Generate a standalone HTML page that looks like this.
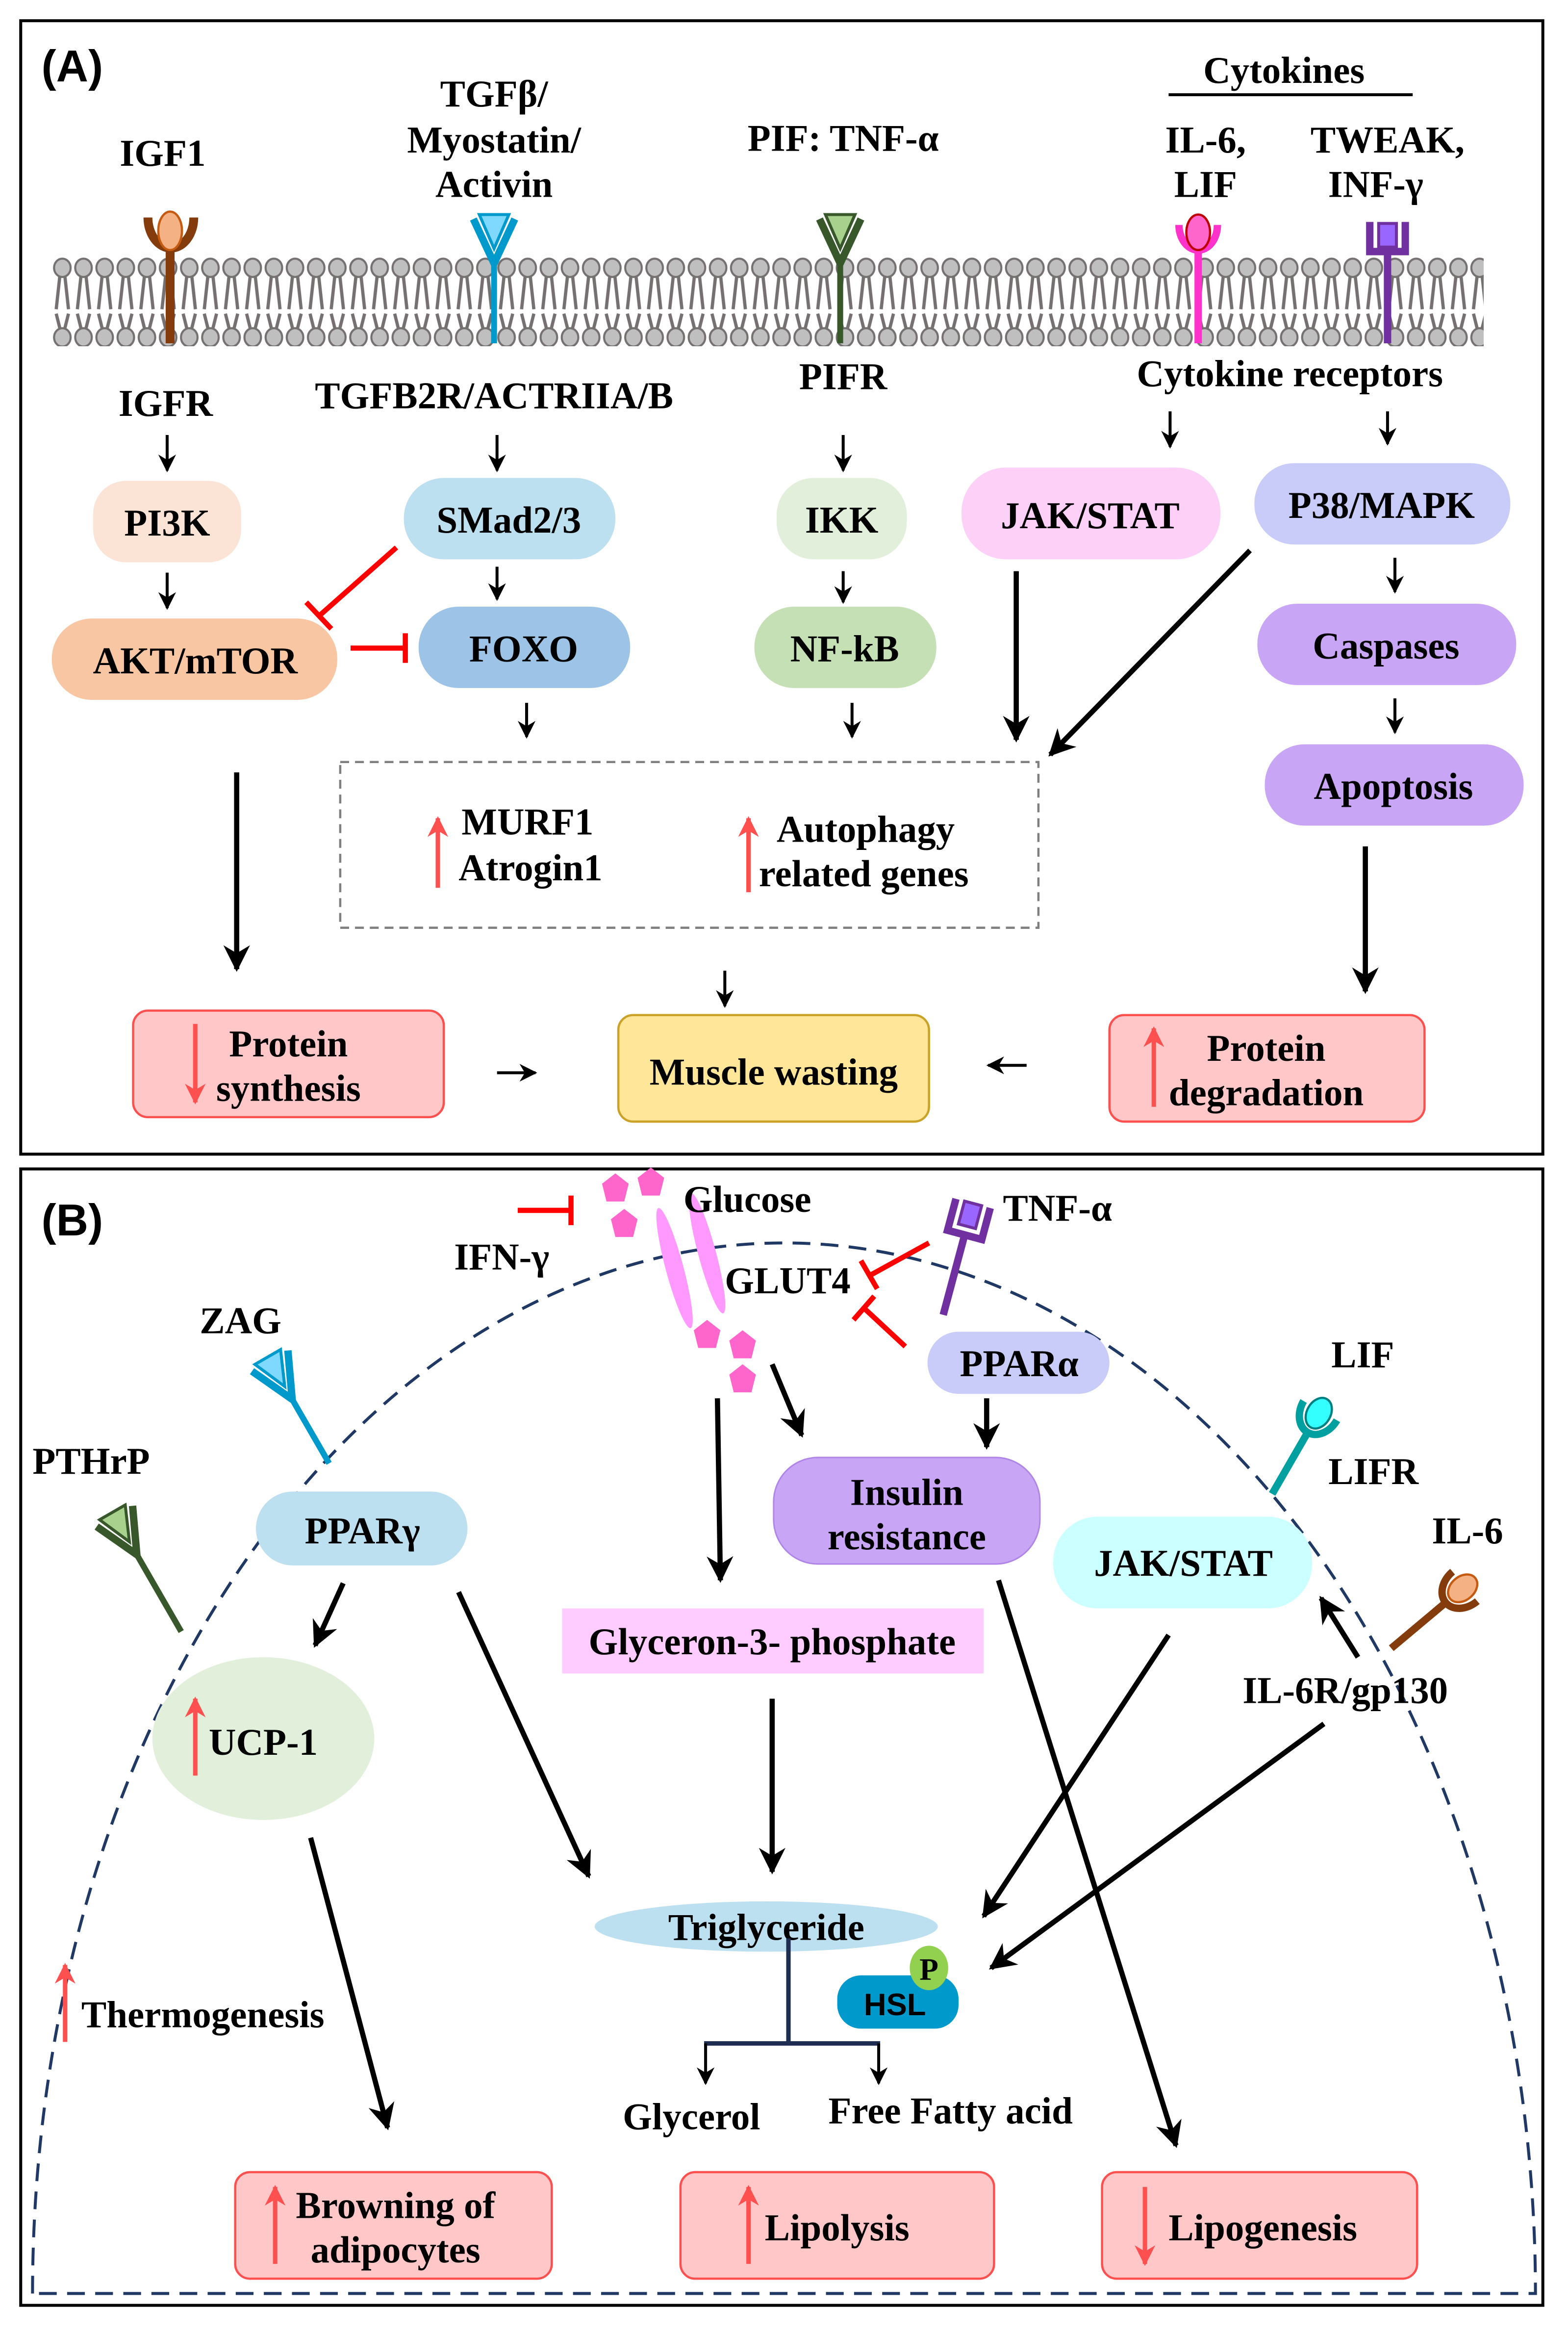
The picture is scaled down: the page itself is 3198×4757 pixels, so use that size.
<!DOCTYPE html>
<html><head><meta charset="utf-8"><style>
html,body{margin:0;padding:0;background:#fff}
svg{display:block}
text{font-family:"Liberation Serif",serif;font-weight:bold;fill:#000}
</style></head><body>
<svg width="3198" height="4757" viewBox="0 0 1060 1576.7" preserveAspectRatio="none" xmlns="http://www.w3.org/2000/svg">
<defs>
<marker id="a" viewBox="0 0 10 10" refX="9" refY="5" markerWidth="12" markerHeight="12" markerUnits="userSpaceOnUse" orient="auto"><path d="M0,0 L10,5 L0,10 L3,5 z" fill="#000"/></marker>
<marker id="b" viewBox="0 0 10 10" refX="9" refY="5" markerWidth="18" markerHeight="18" markerUnits="userSpaceOnUse" orient="auto"><path d="M0,0 L10,5 L0,10 L3,5 z" fill="#000"/></marker>
<marker id="r" viewBox="0 0 10 10" refX="9" refY="5" markerWidth="14" markerHeight="14" markerUnits="userSpaceOnUse" orient="auto"><path d="M0,0 L10,5 L0,10 L3,5 z" fill="#ff5050"/></marker>
<pattern id="mem" x="35" y="172" width="14.3" height="62" patternUnits="userSpaceOnUse">
<line x1="5.5" y1="14" x2="3" y2="37" stroke="#767171" stroke-width="2.2"/>
<line x1="8.8" y1="14" x2="11.3" y2="37" stroke="#767171" stroke-width="2.2"/>
<line x1="3" y1="40" x2="5.5" y2="50" stroke="#767171" stroke-width="2.2"/>
<line x1="11.3" y1="40" x2="8.8" y2="50" stroke="#767171" stroke-width="2.2"/>
<ellipse cx="7.15" cy="9" rx="5.6" ry="6.2" fill="#bfbfbf" stroke="#767171" stroke-width="1.4"/>
<ellipse cx="7.15" cy="56" rx="5.6" ry="6.2" fill="#bfbfbf" stroke="#767171" stroke-width="1.4"/>
</pattern>
</defs>
<rect x="0" y="0" width="1060" height="1577" fill="#fff"/>
<rect x="14" y="14" width="1029" height="766" fill="none" stroke="#000" stroke-width="2"/>
<rect x="14" y="790" width="1029" height="768" fill="none" stroke="#000" stroke-width="2"/>
<text x="28" y="55" style="font-family:'Liberation Sans',sans-serif" font-size="30">(A)</text>
<text x="28" y="835" style="font-family:'Liberation Sans',sans-serif" font-size="30">(B)</text>

<rect x="35" y="172" width="968" height="64" fill="url(#mem)"/>

<g>
<line x1="115" y1="160" x2="115" y2="232" stroke="#843c0c" stroke-width="6"/>
<path d="M100 147 A15 20 0 0 0 131 147" fill="none" stroke="#843c0c" stroke-width="6"/>
<ellipse cx="115" cy="156" rx="8" ry="13" fill="#f4b183" stroke="#c55a11" stroke-width="1.5"/>
</g>
<g>
<line x1="334" y1="175" x2="334" y2="232" stroke="#0099cc" stroke-width="4"/>
<path d="M320 148 L334 178 L348 148" fill="none" stroke="#0099cc" stroke-width="5"/>
<polygon points="324,145 344,145 334,168" fill="#7fd9ff" stroke="#0099cc" stroke-width="2"/>
</g>
<g>
<line x1="568" y1="175" x2="568" y2="232" stroke="#38572a" stroke-width="4"/>
<path d="M554 148 L568 178 L582 148" fill="none" stroke="#38572a" stroke-width="5"/>
<polygon points="558,145 578,145 568,168" fill="#a9d18e" stroke="#38572a" stroke-width="2"/>
</g>
<g>
<line x1="810" y1="165" x2="810" y2="232" stroke="#ff33cc" stroke-width="5"/>
<path d="M797 152 A13 17 0 0 0 823 152" fill="none" stroke="#ff33cc" stroke-width="5"/>
<ellipse cx="810" cy="157" rx="8" ry="12" fill="#ff66cc" stroke="#c00000" stroke-width="1.5"/>
</g>
<g>
<line x1="938" y1="170" x2="938" y2="232" stroke="#7030a0" stroke-width="5"/>
<path d="M926 150 V170 H950 V150" fill="none" stroke="#7030a0" stroke-width="5"/>
<rect x="932" y="151" width="12" height="16" fill="#9966ff" stroke="#7030a0" stroke-width="2"/>
</g>

<g font-size="25.5" text-anchor="middle">
<text x="110" y="112">IGF1</text>
<text x="334" y="72">TGFβ/</text>
<text x="334" y="103">Myostatin/</text>
<text x="334" y="133">Activin</text>
<text x="570" y="102">PIF: TNF-α</text>
<text x="868" y="56">Cytokines</text>
<text x="815" y="103">IL-6,</text>
<text x="815" y="133">LIF</text>
<text x="938" y="103">TWEAK,</text>
<text x="930" y="133">INF-γ</text>
<text x="112" y="281">IGFR</text>
<text x="334" y="276">TGFB2R/ACTRIIA/B</text>
<text x="570" y="263">PIFR</text>
<text x="872" y="261">Cytokine receptors</text>
</g>
<line x1="790" y1="64" x2="955" y2="64" stroke="#000" stroke-width="2"/>

<rect x="63" y="325" width="100" height="55" rx="22" fill="#fbe3d6"/>
<rect x="35" y="418" width="193" height="55" rx="27" fill="#f8c6a3"/>
<rect x="273" y="323" width="143" height="55" rx="27" fill="#bde0f0"/>
<rect x="283" y="410" width="143" height="55" rx="27" fill="#9dc3e6"/>
<rect x="525" y="323" width="88" height="55" rx="25" fill="#e2efda"/>
<rect x="510" y="410" width="123" height="55" rx="27" fill="#c5e0b4"/>
<rect x="650" y="316" width="175" height="62" rx="30" fill="#fdd0f8"/>
<rect x="848" y="313" width="173" height="55" rx="27" fill="#c9cbf8"/>
<rect x="850" y="408" width="175" height="55" rx="27" fill="#c9a5f5"/>
<rect x="855" y="503" width="175" height="55" rx="27" fill="#c9a5f5"/>
<g font-size="25.5" text-anchor="middle">
<text x="113" y="362">PI3K</text>
<text x="132" y="455">AKT/mTOR</text>
<text x="344" y="360">SMad2/3</text>
<text x="354" y="447">FOXO</text>
<text x="569" y="360">IKK</text>
<text x="571" y="447">NF-kB</text>
<text x="737" y="357">JAK/STAT</text>
<text x="934" y="350">P38/MAPK</text>
<text x="937" y="445">Caspases</text>
<text x="942" y="540">Apoptosis</text>
</g>
<rect x="230" y="515" width="472" height="112" fill="none" stroke="#7f7f7f" stroke-width="1.5" stroke-dasharray="6,4"/>
<g font-size="25.5">
<text x="312" y="564">MURF1</text>
<text x="310" y="595">Atrogin1</text>
<text x="525" y="569">Autophagy</text>
<text x="513" y="599">related genes</text>
</g>
<line x1="296" y1="600" x2="296" y2="553" stroke="#ff5050" stroke-width="3" marker-end="url(#r)"/>
<line x1="506" y1="603" x2="506" y2="553" stroke="#ff5050" stroke-width="3" marker-end="url(#r)"/>

<rect x="90" y="683" width="210" height="72" rx="10" fill="#ffc7c7" stroke="#ff5050" stroke-width="1.5"/>
<rect x="418" y="686" width="210" height="72" rx="10" fill="#ffe699" stroke="#c9a227" stroke-width="1.5"/>
<rect x="750" y="686" width="213" height="72" rx="10" fill="#ffc7c7" stroke="#ff5050" stroke-width="1.5"/>
<g font-size="25.5" text-anchor="middle">
<text x="195" y="714">Protein</text>
<text x="195" y="744">synthesis</text>
<text x="523" y="733">Muscle wasting</text>
<text x="856" y="717">Protein</text>
<text x="856" y="747">degradation</text>
</g>
<line x1="132" y1="692" x2="132" y2="745" stroke="#ff5050" stroke-width="3" marker-end="url(#r)"/>
<line x1="780" y1="748" x2="780" y2="695" stroke="#ff5050" stroke-width="3" marker-end="url(#r)"/>

<g stroke="#000" stroke-width="2" marker-end="url(#a)">
<line x1="113" y1="294" x2="113" y2="318"/>
<line x1="113" y1="387" x2="113" y2="411"/>
<line x1="336" y1="294" x2="336" y2="318"/>
<line x1="336" y1="383" x2="336" y2="405"/>
<line x1="570" y1="294" x2="570" y2="318"/>
<line x1="570" y1="386" x2="570" y2="407"/>
<line x1="356" y1="475" x2="356" y2="498"/>
<line x1="576" y1="475" x2="576" y2="498"/>
<line x1="791" y1="278" x2="791" y2="302"/>
<line x1="938" y1="278" x2="938" y2="300"/>
<line x1="943" y1="377" x2="943" y2="400"/>
<line x1="943" y1="472" x2="943" y2="495"/>
<line x1="490" y1="656" x2="490" y2="680"/>
<line x1="336" y1="725" x2="362" y2="725"/>
<line x1="694" y1="720" x2="668" y2="720"/>
</g>
<g stroke="#000" stroke-width="3.5" marker-end="url(#b)">
<line x1="160" y1="522" x2="160" y2="655"/>
<line x1="687" y1="386" x2="687" y2="500"/>
<line x1="845" y1="372" x2="710" y2="510"/>
<line x1="923" y1="572" x2="923" y2="670"/>
</g>
<g stroke="#ff0000" stroke-width="3.5" fill="none">
<line x1="268" y1="370" x2="216" y2="416"/>
<line x1="207" y1="407" x2="224" y2="425"/>
<line x1="237" y1="438" x2="274" y2="438"/>
<line x1="274" y1="428" x2="274" y2="448"/>
</g>

<!-- PANEL B -->
<path d="M22 1550 A508 710 0 0 1 1038 1550 Z" fill="none" stroke="#1f3864" stroke-width="2" stroke-dasharray="12,7"/>

<g fill="#ff66cc">
<polygon points="416,793 425,800 422,812 410,812 407,800"/>
<polygon points="440,789 449,796 446,808 434,808 431,796"/>
<polygon points="422,817 431,824 428,836 416,836 413,824"/>
<polygon points="478,892 487,899 484,911 472,911 469,899"/>
<polygon points="502,899 511,906 508,918 496,918 493,906"/>
<polygon points="502,922 511,929 508,941 496,941 493,929"/>
</g>
<ellipse cx="456" cy="857" rx="6" ry="42" fill="#ff99ff" transform="rotate(-15 456 857)"/>
<ellipse cx="478" cy="847" rx="6" ry="42" fill="#ff99ff" transform="rotate(-15 478 847)"/>
<g font-size="25.5">
<text x="462" y="819">Glucose</text>
<text x="490" y="874">GLUT4</text>
<text x="307" y="858">IFN-γ</text>
<text x="678" y="825">TNF-α</text>
<text x="135" y="901">ZAG</text>
<text x="22" y="996">PTHrP</text>
<text x="900" y="924">LIF</text>
<text x="898" y="1003">LIFR</text>
<text x="968" y="1043">IL-6</text>
<text x="840" y="1151">IL-6R/gp130</text>
<text x="55" y="1370">Thermogenesis</text>
<text x="421" y="1439">Glycerol</text>
<text x="560" y="1435">Free Fatty acid</text>
</g>
<g stroke="#ff0000" stroke-width="3.5">
<line x1="350" y1="818" x2="386" y2="818"/><line x1="386" y1="808" x2="386" y2="828"/>
<line x1="628" y1="840" x2="588" y2="862"/><line x1="582" y1="852" x2="593" y2="871"/>
<line x1="612" y1="910" x2="584" y2="884"/><line x1="577" y1="892" x2="591" y2="876"/>
</g>
<g transform="rotate(15 648 850)" stroke="#7030a0" fill="none">
<line x1="648" y1="835" x2="648" y2="890" stroke-width="5"/>
<path d="M636 812 V834 H660 V812" stroke-width="5"/>
<rect x="642" y="812" width="12" height="16" fill="#9966ff" stroke-width="2"/>
</g>
<g transform="rotate(-30 200 950)">
<line x1="200" y1="945" x2="200" y2="995" stroke="#0099cc" stroke-width="4"/>
<path d="M186 915 L200 945 L214 915" fill="none" stroke="#0099cc" stroke-width="5"/>
<polygon points="190,912 210,912 200,935" fill="#7fd9ff" stroke="#0099cc" stroke-width="2"/>
</g>
<g transform="rotate(-30 95 1055)">
<line x1="95" y1="1050" x2="95" y2="1110" stroke="#38572a" stroke-width="4"/>
<path d="M81 1020 L95 1050 L109 1020" fill="none" stroke="#38572a" stroke-width="5"/>
<polygon points="85,1017 105,1017 95,1040" fill="#a9d18e" stroke="#38572a" stroke-width="2"/>
</g>
<g transform="rotate(30 880 975)">
<line x1="880" y1="965" x2="880" y2="1015" stroke="#00a0a0" stroke-width="5"/>
<path d="M867 950 A13 17 0 0 0 893 950" fill="none" stroke="#00a0a0" stroke-width="5"/>
<ellipse cx="880" cy="952" rx="8" ry="11" fill="#33ffff" stroke="#008080" stroke-width="1.5"/>
</g>
<g transform="rotate(50 975 1085)">
<line x1="975" y1="1080" x2="975" y2="1130" stroke="#843c0c" stroke-width="5"/>
<path d="M962 1065 A13 17 0 0 0 988 1065" fill="none" stroke="#843c0c" stroke-width="5"/>
<ellipse cx="975" cy="1067" rx="8" ry="11" fill="#f4b183" stroke="#c55a11" stroke-width="1.5"/>
</g>

<rect x="627" y="900" width="123" height="42" rx="21" fill="#c9cbf8"/>
<rect x="523" y="985" width="180" height="72" rx="30" fill="#c9a5f5" stroke="#b085e8" stroke-width="1"/>
<rect x="173" y="1008" width="143" height="50" rx="25" fill="#bde0f0"/>
<ellipse cx="178" cy="1175" rx="75" ry="55" fill="#e2efda"/>
<rect x="380" y="1087" width="285" height="44" fill="#ffccff"/>
<rect x="712" y="1025" width="175" height="62" rx="30" fill="#ccffff"/>
<ellipse cx="518" cy="1302" rx="116" ry="17" fill="#bde0f0"/>
<rect x="566" y="1335" width="82" height="36" rx="16" fill="#0099cc"/>
<ellipse cx="628" cy="1330" rx="13" ry="15" fill="#92d050"/>
<text x="628" y="1338" font-size="21" text-anchor="middle">P</text>
<text x="605" y="1362" font-size="21" text-anchor="middle" style="font-family:'Liberation Sans',sans-serif">HSL</text>
<g font-size="25.5" text-anchor="middle">
<text x="689" y="930">PPARα</text>
<text x="613" y="1017">Insulin</text>
<text x="613" y="1047">resistance</text>
<text x="245" y="1043">PPARγ</text>
<text x="178" y="1186">UCP-1</text>
<text x="522" y="1118">Glyceron-3- phosphate</text>
<text x="800" y="1065">JAK/STAT</text>
<text x="518" y="1311">Triglyceride</text>
</g>
<line x1="132" y1="1200" x2="132" y2="1148" stroke="#ff5050" stroke-width="3" marker-end="url(#r)"/>
<line x1="44" y1="1380" x2="44" y2="1328" stroke="#ff5050" stroke-width="3" marker-end="url(#r)"/>

<g stroke="#1f2d50" stroke-width="3" fill="none">
<line x1="533" y1="1310" x2="533" y2="1381"/>
<line x1="476" y1="1381" x2="595" y2="1381"/>
</g>
<g stroke="#000" stroke-width="2" marker-end="url(#a)">
<line x1="477" y1="1381" x2="477" y2="1408"/>
<line x1="594" y1="1381" x2="594" y2="1408"/>
</g>

<g stroke="#000" stroke-width="3.5" marker-end="url(#b)">
<line x1="232" y1="1070" x2="213" y2="1112"/>
<line x1="310" y1="1076" x2="398" y2="1268"/>
<line x1="485" y1="945" x2="487" y2="1068"/>
<line x1="522" y1="922" x2="542" y2="970"/>
<line x1="667" y1="945" x2="667" y2="978"/>
<line x1="522" y1="1148" x2="522" y2="1265"/>
<line x1="210" y1="1242" x2="262" y2="1438"/>
<line x1="675" y1="1068" x2="795" y2="1450"/>
<line x1="790" y1="1105" x2="665" y2="1295"/>
<line x1="895" y1="1165" x2="670" y2="1330"/>
<line x1="918" y1="1120" x2="893" y2="1080"/>
</g>

<rect x="159" y="1468" width="214" height="72" rx="10" fill="#ffc7c7" stroke="#ff5050" stroke-width="1.5"/>
<rect x="460" y="1468" width="212" height="72" rx="10" fill="#ffc7c7" stroke="#ff5050" stroke-width="1.5"/>
<rect x="745" y="1468" width="213" height="72" rx="10" fill="#ffc7c7" stroke="#ff5050" stroke-width="1.5"/>
<g font-size="25.5">
<text x="200" y="1499">Browning of</text>
<text x="210" y="1529">adipocytes</text>
<text x="517" y="1514">Lipolysis</text>
<text x="790" y="1514">Lipogenesis</text>
</g>
<line x1="186" y1="1530" x2="186" y2="1478" stroke="#ff5050" stroke-width="3" marker-end="url(#r)"/>
<line x1="506" y1="1530" x2="506" y2="1478" stroke="#ff5050" stroke-width="3" marker-end="url(#r)"/>
<line x1="774" y1="1478" x2="774" y2="1530" stroke="#ff5050" stroke-width="3" marker-end="url(#r)"/>
</svg>
</body></html>
